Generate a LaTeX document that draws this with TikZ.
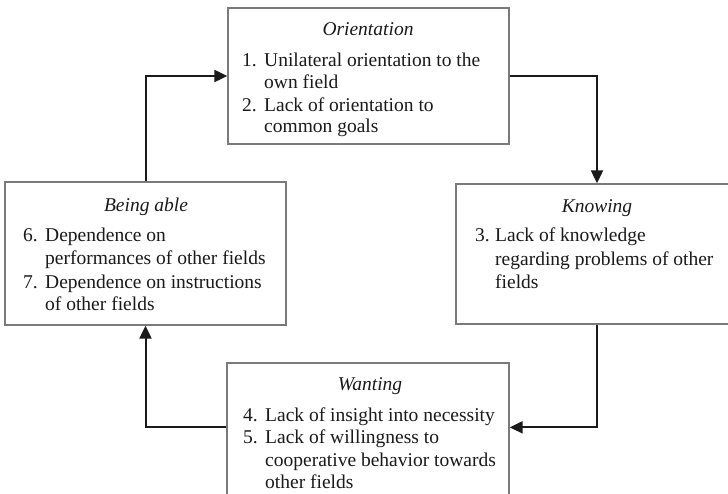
\documentclass[tikz,border=0pt]{standalone}
\usepackage{fontspec}
\setmainfont{Liberation Serif}
\usetikzlibrary{arrows.meta}
\definecolor{ink}{HTML}{1A1A1A}
\definecolor{frame}{HTML}{7A7A7A}
\tikzset{
  box/.style={draw=frame, line width=1.3pt, fill=white, rectangle, inner sep=0pt},
  txt/.style={anchor=base west, inner sep=0pt, text=ink, font=\fontsize{19.5}{22}\selectfont},
  ttl/.style={anchor=base, inner sep=0pt, text=ink, font=\fontsize{19.5}{22}\selectfont\itshape},
  flow/.style={draw=ink, line width=2pt, -{Triangle[length=13pt,width=12pt]}}
}
\begin{document}
\begin{tikzpicture}[x=1pt,y=-1pt]
\clip (0,0) rectangle (728,494);
\fill[white] (0,0) rectangle (728,494);

% the four boxes
\node[box, minimum width=281pt, minimum height=136pt] (orient) at (368.5,76) {};
\node[box, minimum width=282pt, minimum height=140pt] (know) at (597,254) {};
\node[box, minimum width=282pt, minimum height=150pt] (want) at (368,438) {};
\node[box, minimum width=281pt, minimum height=143pt] (able) at (145.5,253.5) {};

% Orientation
\node[ttl] (ot) at (368,36) {Orientation};
\node[txt] (o1n) at (242,67) {1.};
\node[txt] (o1a) at (264,67) {Unilateral orientation to the};
\node[txt] (o1b) at (264,89) {own field};
\node[txt] (o2n) at (242,112) {2.};
\node[txt] (o2a) at (264,112) {Lack of orientation to};
\node[txt] (o2b) at (264,133) {common goals};

% Knowing
\node[ttl] (kt) at (597,213) {Knowing};
\node[txt] (k3n) at (475,242) {3.};
\node[txt] (k3a) at (495,242) {Lack of knowledge};
\node[txt] (k3b) at (495,266) {regarding problems of other};
\node[txt] (k3c) at (495,289) {fields};

% Wanting
\node[ttl] (wt) at (370,390) {Wanting};
\node[txt] (w4n) at (243,421) {4.};
\node[txt] (w4a) at (265,421) {Lack of insight into necessity};
\node[txt] (w5n) at (243,443) {5.};
\node[txt] (w5a) at (265,443) {Lack of willingness to};
\node[txt] (w5b) at (265,466) {cooperative behavior towards};
\node[txt] (w5c) at (265,488) {other fields};

% Being able
\node[ttl] (bt) at (146,212) {Being able};
\node[txt] (b6n) at (23,242) {6.};
\node[txt] (b6a) at (45,242) {Dependence on};
\node[txt] (b6b) at (45,265) {performances of other fields};
\node[txt] (b7n) at (23,288) {7.};
\node[txt] (b7a) at (45,288) {Dependence on instructions};
\node[txt] (b7b) at (45,311) {of other fields};

% cycle of connectors
\draw[flow] (able.north) |- (orient.west);
\draw[flow] (orient.east) -| (know.north);
\draw[flow] (know.south) |- ([yshift=-65pt]want.north east);
\draw[flow] ([yshift=-65pt]want.north west) -| (able.south);
\end{tikzpicture}
\end{document}
